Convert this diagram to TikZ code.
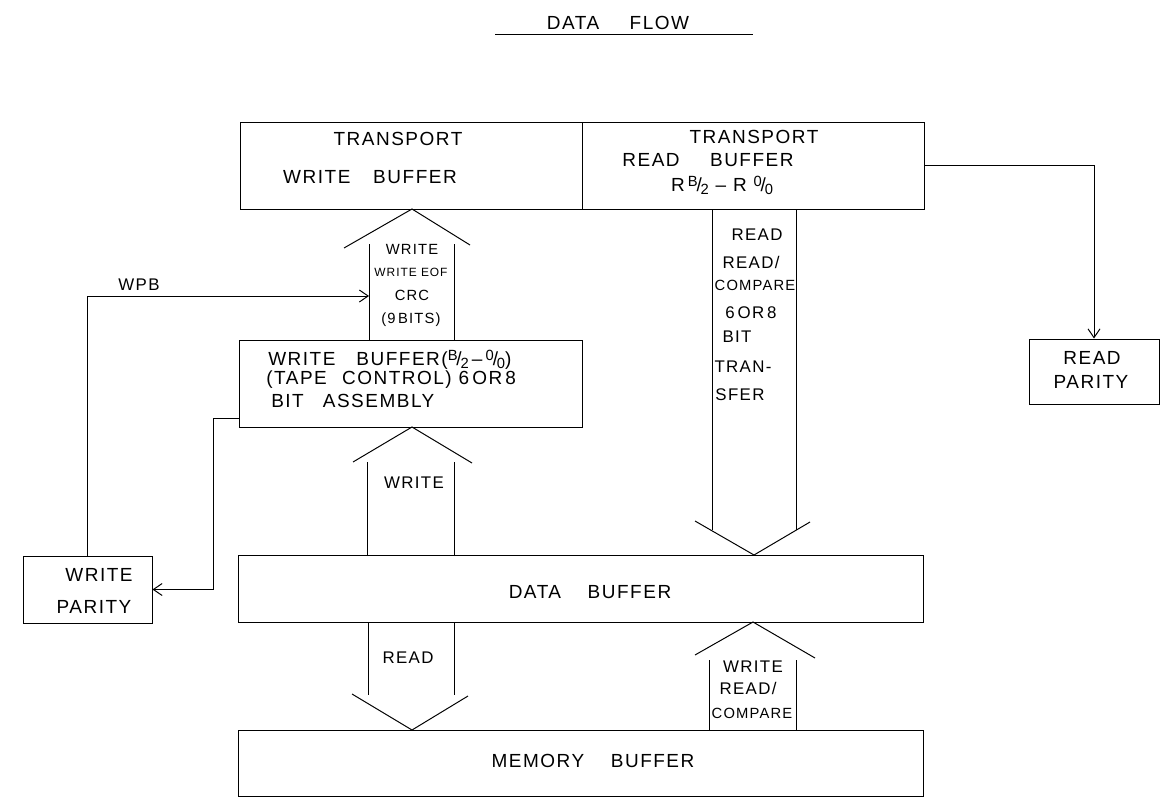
\documentclass[tikz,border=0pt]{standalone}
\usepackage{fontspec}
\newfontfamily\hand[LetterSpace=8]{Liberation Sans}
\usetikzlibrary{fit,arrows.meta,calc}
\newcommand\hfrac[2]{\raisebox{0.5ex}{\fontsize{10.5}{10}\selectfont #1}\kern-0.06em/\kern-0.06em\raisebox{-0.3ex}{\fontsize{10.5}{10}\selectfont #2}}
\tikzset{
  box/.style={draw, inner sep=0pt, line width=0.7pt},
  ln/.style={line width=0.7pt},
  arr/.style={line width=0.7pt, -{Straight Barb[length=2.2mm,width=3mm]}},
  txt/.style={inner sep=0pt, font=\hand\fontsize{13.5}{15}\selectfont},
  mtxt/.style={inner sep=0pt, font=\hand\fontsize{12}{14}\selectfont},
  stxt/.style={inner sep=0pt, font=\hand\fontsize{10.5}{12}\selectfont},
  xtxt/.style={inner sep=0pt, font=\hand\fontsize{8.5}{10}\selectfont},
}
\begin{document}
\begin{tikzpicture}[x=0.025cm,y=-0.025cm]
\useasboundingbox (0,0) rectangle (1176,803);
% title
\node[txt] (title) at (618,23) {DATA\hspace{1.6em}FLOW};
\draw[ln] (495,34) coordinate (ul1) -- (753,34) coordinate (ul2);
% boxes
\node[box, fit={(240,122)(582,209)}] (tw) {};
\node[box, fit={(582,122)(924,209)}] (tr) {};
\node[box, fit={(1029,339)(1159,404)}] (rp) {};
\node[box, fit={(239,340)(582,427)}] (wb) {};
\node[box, fit={(23,556)(152,623)}] (wp) {};
\node[box, fit={(238,555)(923,622)}] (db) {};
\node[box, fit={(238,730)(923,796)}] (mb) {};
% box texts
\node[txt] (t1) at (398,139) {TRANSPORT};
\node[txt] (t2) at (370,177) {WRITE\hspace{1.2em}BUFFER};
\node[txt] (t3) at (754,137) {TRANSPORT};
\node[txt] (t4) at (708,160) {READ\hspace{1.6em}BUFFER};
\node[txt] (t5) at (722,185) {R\,\hfrac{B}{2} – R \hfrac{0}{0}};
\node[txt] (rp1) at (1092,358) {READ};
\node[txt] (rp2) at (1091,382) {PARITY};
\node[txt, anchor=west] (wb1) at (268,360) {WRITE\hspace{1.1em}BUFFER(\hfrac{B}{2}\,–\,\hfrac{0}{0})};
\node[txt, anchor=west] (wb2) at (266,380) {(TAPE\hspace{0.8em}CONTROL) 6\,OR\,8};
\node[txt, anchor=west] (wb3) at (271,401) {BIT\hspace{1em}ASSEMBLY};
\node[txt] (wp1) at (99,575) {WRITE};
\node[txt] (wp2) at (94,607) {PARITY};
\node[txt] (db1) at (590,592) {DATA\hspace{1.4em}BUFFER};
\node[txt] (mb1) at (593,761) {MEMORY\hspace{1.4em}BUFFER};
% broad arrow: write buffer -> transport write buffer
\draw[ln] (369,340) -- (369,244) (454,340) -- (454,244);
\draw[ln] (344,248) -- (412,209) -- (470,245);
\node[stxt] (a1) at (412,249) {WRITE};
\node[xtxt] (a2) at (411,272) {WRITE EOF};
\node[stxt] (a3) at (412,295) {CRC};
\node[stxt] (a4) at (411,320) {(9\,BITS)};
% broad arrow: data buffer -> write buffer
\draw[ln] (367,556) -- (367,462) (454,556) -- (454,462);
\draw[ln] (353,462) -- (412,427) -- (472,463);
\node[mtxt] (a5) at (414,483) {WRITE};
% broad arrow: transport read buffer -> data buffer
\draw[ln] (712,209) -- (712,530) (796,209) -- (796,530);
\draw[ln] (695,521) -- (754,555) -- (810,522);
\node[mtxt] (r1) at (757,235) {READ};
\node[mtxt] (r2) at (751,262) {READ/};
\node[stxt] (r3) at (755,285) {COMPARE};
\node[mtxt] (r4) at (751,313) {6\,OR\,8};
\node[mtxt] (r5) at (737,337) {BIT};
\node[mtxt] (r6) at (743,367) {TRAN-};
\node[mtxt] (r7) at (740,395) {SFER};
% broad arrow: data buffer -> memory buffer
\draw[ln] (368,622) -- (368,695) (454,622) -- (454,695);
\draw[ln] (352,694) -- (412,730) -- (468,696);
\node[mtxt] (a6) at (408,658) {READ};
% broad arrow: memory buffer -> data buffer
\draw[ln] (709,730) -- (709,660) (796,730) -- (796,660);
\draw[ln] (695,655) -- (753,622) -- (815,658);
\node[mtxt] (w1) at (753,667) {WRITE};
\node[mtxt] (w2) at (748,688) {READ/};
\node[stxt] (w3) at (752,713) {COMPARE};
% connectors
\draw[arr] (tr.east) -| (rp.north);
\coordinate (crcin) at (369,296);
\draw[arr] (wp.north) |- (crcin);
\node[mtxt] (wpb) at (139,285) {WPB};
\coordinate (wbout) at (239,418);
\draw[arr] (wbout) -- (213,418) |- (wp.east);
\end{tikzpicture}
\end{document}
